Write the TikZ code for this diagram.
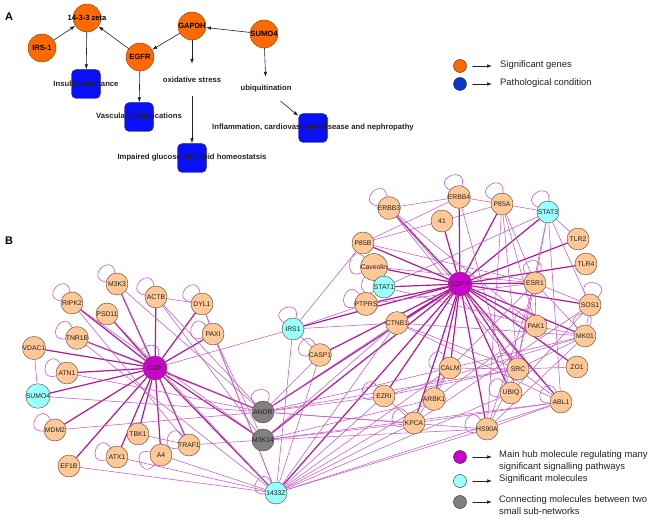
\documentclass[tikz,border=0pt]{standalone}
\usepackage{fontspec}
\setmainfont{Liberation Sans}
\usetikzlibrary{arrows.meta,backgrounds}
\definecolor{geneOrange}{HTML}{FF6A00}
\definecolor{geneRim}{HTML}{7A3A10}
\definecolor{pathBlue}{HTML}{0A10F5}
\definecolor{pathRim}{HTML}{1A1A70}
\definecolor{legBlue}{HTML}{0A35C8}
\definecolor{molPeach}{HTML}{FFC896}
\definecolor{molRim}{HTML}{5A4030}
\definecolor{hubPurple}{HTML}{CC00CC}
\definecolor{sigCyan}{HTML}{99FFFF}
\definecolor{connGray}{HTML}{808080}
\definecolor{hubEdge}{HTML}{B0189C}
\definecolor{thinEdge}{HTML}{C65CC6}
\definecolor{inkDark}{HTML}{222222}

\begin{document}
\begin{tikzpicture}[x=1pt,y=-1pt,>=Latex,line cap=round,line join=round]
\useasboundingbox (0,0) rectangle (661,518);
\tikzset{gene/.style={circle,draw=geneRim,fill=geneOrange,minimum size=28pt,inner sep=0pt,font=\fontsize{7.6}{8}\selectfont\bfseries},
  patho/.style={draw=pathRim,fill=pathBlue,rounded corners=5pt,minimum size=29pt,inner sep=0pt},
  atext/.style={font=\fontsize{7.7}{8}\selectfont\bfseries,text=inkDark,inner sep=0pt},
  arr/.style={draw=inkDark,line width=0.6pt,-{Latex[length=5pt,width=3.6pt]}},
  mol/.style={circle,draw=molRim,fill=molPeach,minimum size=22pt,inner sep=0pt,font=\fontsize{6.8}{7}\selectfont,text=inkDark},
  hub/.style={mol,fill=hubPurple,minimum size=24pt},
  sig/.style={mol,fill=sigCyan},
  conn/.style={mol,fill=connGray},
  hubedge/.style={draw=hubEdge,line width=1.2pt},
  link/.style={draw=thinEdge,line width=0.55pt},
  selfloop/.style={draw=thinEdge,line width=0.6pt},
  legdot/.style={circle,draw=inkDark,minimum size=13pt,inner sep=0pt},
  legtext/.style={anchor=west,font=\fontsize{9.4}{11.5}\selectfont,text=inkDark,align=left,inner sep=0pt}}
\begin{pgfonlayer}{background}
\fill[white] (0,0) rectangle (661,518);
\end{pgfonlayer}
% panel A
\node[font=\fontsize{11}{12}\selectfont\bfseries] at (9,17) {A};
\node[gene] (zeta) at (87,18) {\makebox[0pt]{14-3-3 zeta}};
\node[gene] (irsa) at (42,48) {IRS-1};
\node[gene] (egfra) at (140,57) {EGFR};
\node[gene] (gapdh) at (192,26) {GAPDH};
\node[gene] (sumoa) at (264,34) {SUMO4};
\node[patho] (insres) at (86,84) {};
\node[atext] at (insres) {Insulin resistance};
\node[patho] (vasc) at (139,117) {};
\node[atext] at (vasc) {Vascular complications};
\node[patho] (gluc) at (192,158) {};
\node[atext] at (gluc) {Impaired glucose and lipid homeostatsis};
\node[patho] (infl) at (313,128) {};
\node[atext] at (infl) {Inflammation, cardiovascular disease and nephropathy};
\node[atext,minimum height=32pt] (oxi) at (192,80) {oxidative stress};
\node[atext,minimum height=24pt] (ubiq) at (266,89) {ubiquitination};
\draw[arr] (irsa) -- (zeta);
\draw[arr] (egfra) -- (zeta);
\draw[arr] (gapdh) -- (egfra);
\draw[arr] (sumoa) -- (gapdh);
\draw[arr] (zeta) -- (insres);
\draw[arr] (egfra) -- (vasc);
\draw[arr] (gapdh) -- (oxi);
\draw[arr] (oxi) -- (gluc);
\draw[arr] (sumoa) -- (ubiq);
\draw[arr] (ubiq) -- (infl);
% legend A
\node[legdot,fill=geneOrange] (lgGene) at (460,66) {};
\node[legdot,fill=legBlue] (lgPath) at (460,84) {};
\coordinate (lgGeneEnd) at (492,66);
\coordinate (lgPathEnd) at (492,84);
\draw[arr,shorten <=6pt] (lgGene) -- (lgGeneEnd);
\draw[arr,shorten <=6pt] (lgPath) -- (lgPathEnd);
\node[legtext] at (500,65) {Significant genes};
\node[legtext] at (500,83) {Pathological condition};
% panel B
\node[font=\fontsize{11}{12}\selectfont\bfseries] at (9,241) {B};
\node[hub] (g3p) at (155,368) {G3P};
\node[mol] (m3k3) at (117,284) {M3K3};
\node[mol] (actb) at (156,297) {ACTB};
\node[mol] (dyl1) at (202,304) {DYL1};
\node[mol] (paxi) at (213,334) {PAXI};
\node[mol] (ripk2) at (72,303) {RIPK2};
\node[mol] (psd11) at (107,314) {PSD11};
\node[mol] (tnr1b) at (77,338) {TNR1B};
\node[mol] (vdac1) at (34,348) {VDAC1};
\node[mol] (atn1) at (67,373) {ATN1};
\node[sig] (sumob) at (38,396) {SUMO4};
\node[mol] (mdm2) at (55,430) {MDM2};
\node[mol] (tbk1) at (138,434) {TBK1};
\node[mol] (atx1) at (117,457) {ATX1};
\node[mol] (a4) at (161,455) {A4};
\node[mol] (traf1) at (189,445) {TRAF1};
\node[mol] (ef1b) at (69,466) {EF1B};
\node[sig] (irs1) at (293,329) {IRS1};
\node[conn] (andr) at (263,412) {ANDR};
\node[conn] (m3k14) at (263,440) {M3K14};
\node[sig] (z1433) at (276,493) {1433Z};
\node[mol] (casp1) at (320,355) {CASP1};
\node[hub] (egfr) at (460,284) {EGFR};
\node[mol] (erbb3) at (389,208) {ERBB3};
\node[mol] (p41) at (442,221) {41};
\node[mol] (erbb4) at (459,197) {ERBB4};
\node[mol] (p85a) at (502,204) {P85A};
\node[sig] (stat3) at (548,212) {STAT3};
\node[mol] (tlr2) at (578,239) {TLR2};
\node[mol] (tlr4) at (586,264) {TLR4};
\node[mol] (p85b) at (363,243) {P85B};
\node[mol] (caveolin) at (374,267) {Caveolin};
\node[sig] (stat1) at (384,287) {STAT1};
\node[mol] (ptprs) at (366,304) {PTPRS};
\node[mol] (ctnb1) at (397,323) {CTNB1};
\node[mol] (esr1) at (535,283) {ESR1};
\node[mol] (sos1) at (590,305) {SOS1};
\node[mol] (pak1) at (536,326) {PAK1};
\node[mol] (mk01) at (585,336) {MK01};
\node[mol] (zo1) at (577,367) {ZO1};
\node[mol] (calm) at (450,368) {CALM};
\node[mol] (src) at (518,369) {SRC};
\node[mol] (ezri) at (384,396) {EZRI};
\node[mol] (arbk1) at (434,399) {ARBK1};
\node[mol] (ubiqb) at (511,393) {UBIQ};
\node[mol] (abl1) at (561,402) {ABL1};
\node[mol] (kpca) at (414,423) {KPCA};
\node[mol] (hs90a) at (487,429) {HS90A};
\begin{pgfonlayer}{background}
\foreach \m in {m3k3,actb,dyl1,paxi,ripk2,psd11,tnr1b,vdac1,atn1,sumob,mdm2,tbk1,atx1,a4,traf1,ef1b,andr,m3k14,z1433}
  \draw[hubedge] (g3p) -- (\m);
\foreach \m in {erbb3,p41,erbb4,p85a,stat3,tlr2,tlr4,p85b,caveolin,stat1,ptprs,ctnb1,esr1,sos1,pak1,mk01,zo1,calm,src,ezri,arbk1,ubiqb,abl1,kpca,hs90a,irs1,casp1,andr,m3k14,z1433}
  \draw[hubedge] (egfr) -- (\m);
% thin links
\foreach \p/\q in {actb/dyl1,dyl1/paxi,vdac1/sumob,actb/m3k14,actb/andr,dyl1/z1433,paxi/m3k14,paxi/z1433,ripk2/m3k14,tnr1b/andr,psd11/z1433,m3k3/andr,mdm2/andr,traf1/m3k14,ef1b/z1433,atx1/z1433,a4/z1433,tbk1/traf1,atn1/andr,g3p/irs1,sumob/andr,m3k3/traf1,ripk2/traf1,tnr1b/z1433,
  irs1/p85b,irs1/z1433,irs1/ptprs,irs1/ctnb1,andr/ctnb1,andr/casp1,andr/ezri,andr/kpca,andr/hs90a,andr/calm,andr/src,m3k14/ctnb1,m3k14/kpca,m3k14/hs90a,m3k14/arbk1,m3k14/abl1,z1433/ezri,z1433/kpca,z1433/hs90a,z1433/arbk1,z1433/calm,z1433/ctnb1,z1433/casp1,z1433/ubiqb,z1433/abl1,casp1/irs1,
  erbb3/erbb4,erbb4/p85a,p85a/stat3,stat3/tlr2,p85a/esr1,p85a/pak1,p85a/src,stat3/esr1,stat3/sos1,stat3/abl1,esr1/sos1,esr1/mk01,esr1/pak1,pak1/mk01,mk01/sos1,src/abl1,src/mk01,ubiqb/esr1,hs90a/esr1,hs90a/abl1,hs90a/src,kpca/calm,kpca/ezri,arbk1/calm,calm/mk01,erbb3/pak1,erbb3/abl1,p85b/esr1,p85b/erbb4,caveolin/esr1,stat1/stat3,ctnb1/abl1,ctnb1/src,erbb3/src,p85b/p85a,ptprs/esr1,calm/esr1,ezri/mk01,kpca/sos1,hs90a/mk01,zo1/src,ubiqb/sos1,erbb4/ubiqb,ctnb1/mk01,stat1/pak1,ezri/src,arbk1/pak1,kpca/abl1,calm/src,p85a/hs90a,stat3/ubiqb}
  \draw[link] (\p) -- (\q);
% self loops
\foreach \n/\a [evaluate=\a as \b using int(\a-35), evaluate=\a as \c using int(\a+35), evaluate=\a as \bb using int(35-\a), evaluate=\a as \cc using int(-35-\a)] in {m3k3/135,actb/135,dyl1/135,ripk2/135,tnr1b/150,atn1/160,paxi/165,mdm2/150,atx1/160,a4/200,traf1/160,irs1/110,casp1/150,erbb3/135,erbb4/110,p85a/120,stat3/120,ptprs/160,stat1/170,caveolin/170,ezri/160,kpca/160,calm/150,hs90a/160,andr/100,z1433/150,mk01/100,sos1/80,ubiqb/160,src/150,esr1/100,abl1/150,pak1/150,g3p/110}
  \draw[selfloop] (\n.\b) .. controls +(\bb:22) and +(\cc:22) .. (\n.\c);
\end{pgfonlayer}
% legend B
\node[legdot,fill=hubPurple] (lgHub) at (460,457) {};
\node[legdot,fill=sigCyan] (lgSig) at (460,481) {};
\node[legdot,fill=connGray] (lgConn) at (460,502) {};
\coordinate (lgHubEnd) at (492,457);
\coordinate (lgSigEnd) at (492,481);
\coordinate (lgConnEnd) at (492,502);
\draw[arr,shorten <=6pt] (lgHub) -- (lgHubEnd);
\draw[arr,shorten <=6pt] (lgSig) -- (lgSigEnd);
\draw[arr,shorten <=6pt] (lgConn) -- (lgConnEnd);
\node[legtext] at (499,461) {Main hub molecule regulating many\\significant signalling pathways};
\node[legtext] at (499,479) {Significant molecules};
\node[legtext] at (499,505) {Connecting molecules between two\\small sub-networks};
\end{tikzpicture}
\end{document}
